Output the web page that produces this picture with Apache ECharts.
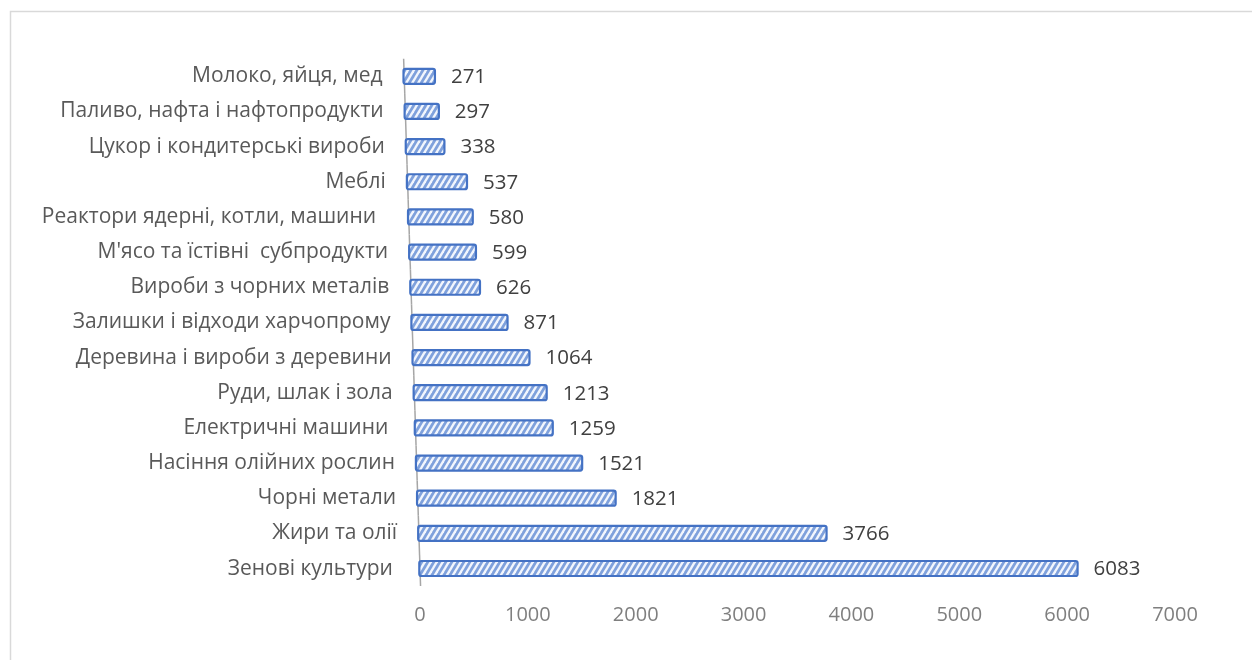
<!DOCTYPE html>
<html><head><meta charset="utf-8">
<script src="https://cdn.jsdelivr.net/npm/echarts@6/dist/echarts.min.js"></script>
<style>html,body{margin:0;padding:0;background:#fff}#c{width:1252px;height:660px}</style>
</head><body><div id="c"></div>
<script>
const categories = [
  'Молоко, яйця, мед',
  'Паливо, нафта і нафтопродукти',
  'Цукор і кондитерські вироби',
  'Меблі',
  'Реактори ядерні, котли, машини  ',
  "М'ясо та їстівні  субпродукти",
  'Вироби з чорних металів',
  'Залишки і відходи харчопрому',
  'Деревина і вироби з деревини',
  'Руди, шлак і зола',
  'Електричні машини ',
  'Насіння олійних рослин',
  'Чорні метали',
  'Жири та олії',
  'Зенові культури '
];
const values = [271, 297, 338, 537, 580, 599, 626, 871, 1064, 1213, 1259, 1521, 1821, 3766, 6083];
const xMin = 0, xMax = 7000, xStep = 1000;

function makePattern() {
  const w = 6, h = 10;
  const c = document.createElement('canvas');
  c.width = w; c.height = h;
  const g = c.getContext('2d');
  g.fillStyle = '#7fa1dc';
  g.fillRect(0, 0, w, h);
  g.strokeStyle = '#f2f6fd';
  g.lineWidth = 2.4;
  for (let k = 0; k <= 2; k++) {
    g.beginPath();
    g.moveTo(-w, k * h + h);
    g.lineTo(2 * w, k * h - 2 * h);
    g.stroke();
  }
  return { image: c, repeat: 'repeat' };
}
const pattern = makePattern();
const FONT = '"Open Sans", "Noto Sans", sans-serif';
const SKEW = 0.0321;

const chart = echarts.init(document.getElementById('c'), null, { renderer: 'canvas' });
chart.setOption({
  animation: false,
  backgroundColor: '#ffffff',
  graphic: [{
    type: 'rect', left: 8, top: 9, z: -1,
    shape: { x: 0, y: 0, width: 1400, height: 800 },
    style: { fill: 'none', stroke: '#d9d9d9', lineWidth: 1.5 }
  }],
  grid: { left: 420, right: 77, top: 58.7, bottom: 73.9 },
  xAxis: {
    type: 'value', min: xMin, max: xMax, interval: xStep,
    axisLine: { show: false }, axisTick: { show: false }, splitLine: { show: false },
    axisLabel: { color: '#7f7f7f', fontSize: 20, fontFamily: FONT, margin: 19,
                 formatter: v => String(v) }
  },
  yAxis: {
    type: 'category', inverse: true, data: categories,
    axisLine: { show: false }, axisTick: { show: false }, axisLabel: { show: false }, splitLine: { show: false }
  },
  series: [{
    type: 'custom',
    data: values.map((v, i) => [v, i]),
    encode: { x: 0, y: 1 },
    renderItem: function (params, api) {
      const n = categories.length;
      const v = api.value(0), idx = api.value(1);
      const p0 = api.coord([0, idx]);
      const p1 = api.coord([v, idx]);
      const pb = api.coord([0, n - 1]);
      const band = api.size([0, 1])[1];
      const cy = p0[1];
      const s = (cy - pb[1]) * SKEW;
      const L = p0[0] - 1.7 + s;
      const R = p1[0] + s + 2.5;
      const yt = cy - band / 2, yb = cy + band / 2;
      return {
        type: 'group',
        children: [
          { type: 'line',
            shape: { x1: p0[0] + (yt - pb[1]) * SKEW, y1: yt, x2: p0[0] + (yb - pb[1]) * SKEW, y2: yb },
            style: { stroke: '#a6a6a6', lineWidth: 1.5 } },
          { type: 'rect',
            shape: { x: L + 1, y: cy - 7.5, width: R - L - 2, height: 15, r: 2 },
            style: { fill: pattern, stroke: '#4472c4', lineWidth: 2.2 } },
          { type: 'text',
            style: { text: String(v), x: R + 15, y: cy + 1, align: 'left', verticalAlign: 'middle',
                     fill: '#404040', fontSize: 20.5, fontFamily: FONT } },
          { type: 'text',
            style: { text: categories[idx], x: L - 20, y: cy, align: 'right', verticalAlign: 'middle',
                     fill: '#595959', fontSize: 21, fontFamily: FONT } }
        ]
      };
    }
  }]
});
</script></body></html>
